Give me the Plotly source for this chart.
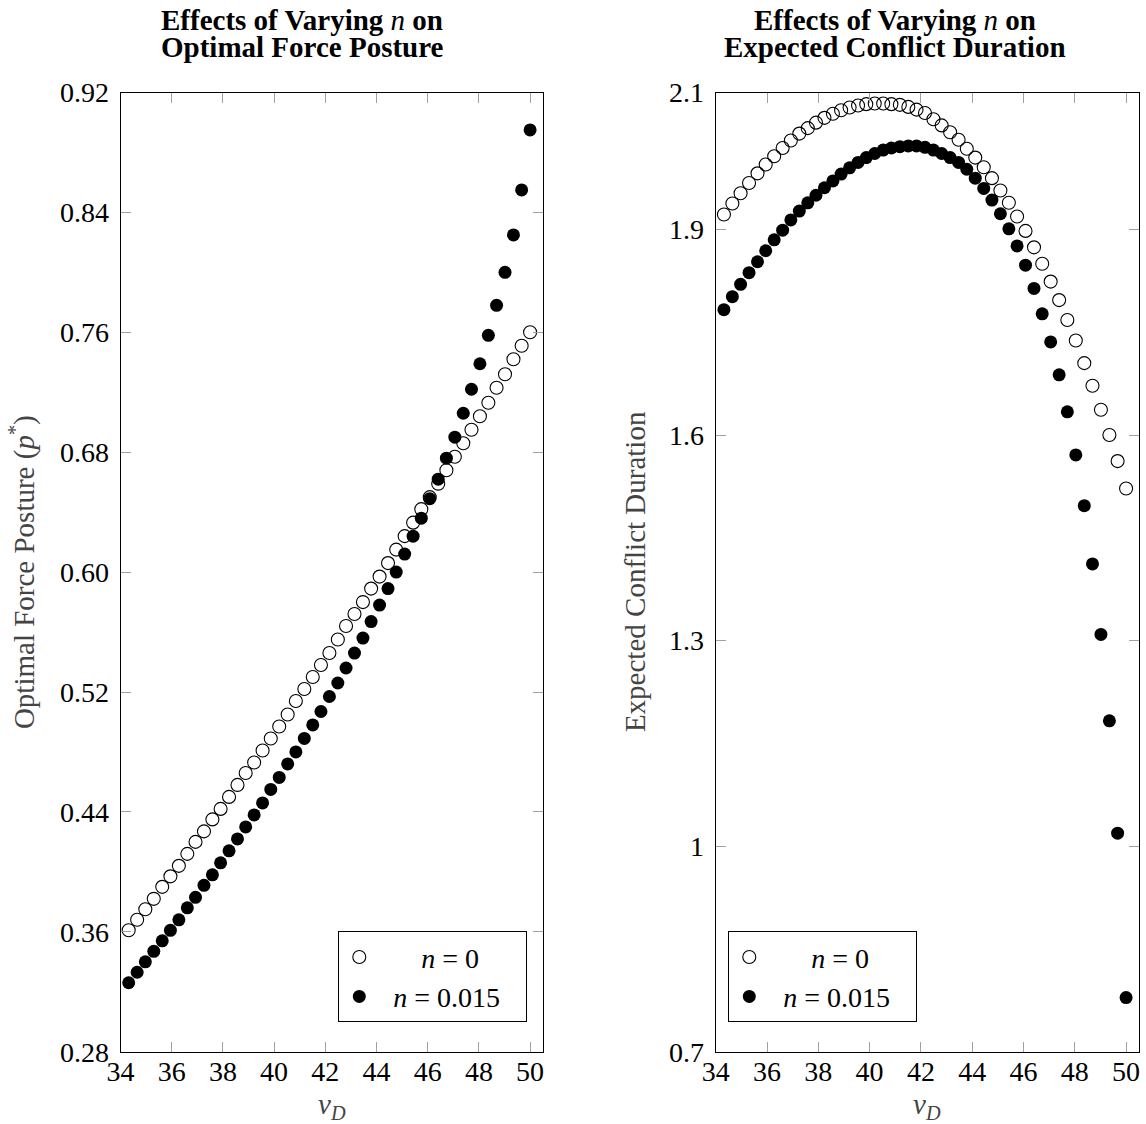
import plotly.graph_objects as go

# ---------------- data ----------------
v_D = [34.32, 34.65, 34.97, 35.30, 35.63, 35.95, 36.28, 36.61, 36.93, 37.26,
       37.59, 37.91, 38.24, 38.57, 38.89, 39.22, 39.55, 39.87, 40.20, 40.53,
       40.85, 41.18, 41.51, 41.83, 42.16, 42.49, 42.81, 43.14, 43.47, 43.79,
       44.12, 44.45, 44.77, 45.10, 45.43, 45.75, 46.08, 46.41, 46.73, 47.06,
       47.39, 47.71, 48.04, 48.37, 48.69, 49.02, 49.35, 49.67, 50.00]

posture_n0 = [0.361, 0.368, 0.375, 0.382, 0.390, 0.397, 0.404, 0.412, 0.420, 0.427,
              0.435, 0.442, 0.450, 0.458, 0.466, 0.473, 0.481, 0.489, 0.497, 0.505,
              0.514, 0.522, 0.530, 0.538, 0.546, 0.555, 0.564, 0.572, 0.580, 0.589,
              0.597, 0.606, 0.615, 0.624, 0.633, 0.642, 0.650, 0.659, 0.668, 0.677,
              0.686, 0.695, 0.704, 0.713, 0.723, 0.732, 0.742, 0.751, 0.760]

posture_n015 = [0.326, 0.333, 0.340, 0.347, 0.354, 0.361, 0.368, 0.376, 0.383, 0.391,
                0.398, 0.406, 0.414, 0.422, 0.430, 0.438, 0.446, 0.455, 0.463, 0.472,
                0.480, 0.489, 0.498, 0.507, 0.517, 0.526, 0.536, 0.546, 0.556, 0.567,
                0.578, 0.589, 0.600, 0.612, 0.624, 0.636, 0.649, 0.662, 0.676, 0.690,
                0.706, 0.722, 0.739, 0.758, 0.778, 0.800, 0.825, 0.855, 0.895]

duration_n0 = [1.922, 1.938, 1.953, 1.968, 1.982, 1.995, 2.007, 2.019, 2.030, 2.040,
               2.048, 2.056, 2.063, 2.069, 2.074, 2.078, 2.081, 2.083, 2.084, 2.084,
               2.083, 2.082, 2.079, 2.075, 2.070, 2.061, 2.052, 2.042, 2.031, 2.018,
               2.005, 1.991, 1.975, 1.957, 1.939, 1.919, 1.898, 1.874, 1.850, 1.824,
               1.797, 1.768, 1.738, 1.705, 1.672, 1.637, 1.600, 1.562, 1.522]

duration_n015 = [1.783, 1.802, 1.820, 1.837, 1.853, 1.869, 1.885, 1.899, 1.914, 1.927,
                 1.939, 1.950, 1.961, 1.971, 1.981, 1.990, 1.998, 2.005, 2.011, 2.016,
                 2.019, 2.021, 2.022, 2.022, 2.020, 2.016, 2.011, 2.005, 1.998, 1.988,
                 1.975, 1.960, 1.943, 1.923, 1.901, 1.876, 1.848, 1.814, 1.777, 1.736,
                 1.688, 1.634, 1.571, 1.497, 1.412, 1.309, 1.183, 1.019, 0.779]

x_ticks = [34, 36, 38, 40, 42, 44, 46, 48, 50]
posture_ticks = [0.28, 0.36, 0.44, 0.52, 0.60, 0.68, 0.76, 0.84, 0.92]
posture_ticktext = ["0.28", "0.36", "0.44", "0.52", "0.60", "0.68", "0.76", "0.84", "0.92"]
duration_ticks = [0.7, 1.0, 1.3, 1.6, 1.9, 2.1]
duration_ticktext = ["0.7", "1", "1.3", "1.6", "1.9", "2.1"]

NB = "\u00a0"
label_n0 = NB * 6 + "<i>n</i> = 0"
label_n015 = NB * 2 + "<i>n</i> = 0.015" + NB * 3

# ---------------- styling / layout helpers ----------------
FONT = "Liberation Serif"
FW, FH = 1146, 1124


def fx(px):                   # page pixel -> paper fraction (x)
    return px / FW


def fy(px):                   # page pixel -> paper fraction (y)
    return 1 - px / FH


TOP, BOTTOM = 92.5, 1051.7
ydom = [fy(BOTTOM), fy(TOP)]

open_marker = dict(symbol="circle", size=13, color="rgba(0,0,0,0)",
                   line=dict(color="black", width=1.1))
filled_marker = dict(symbol="circle", size=13, color="black",
                     line=dict(color="black", width=0))

fig = go.Figure()
fig.add_trace(go.Scatter(x=v_D, y=posture_n0, mode="markers", marker=open_marker,
                         name=label_n0, xaxis="x", yaxis="y", legend="legend"))
fig.add_trace(go.Scatter(x=v_D, y=posture_n015, mode="markers", marker=filled_marker,
                         name=label_n015, xaxis="x", yaxis="y", legend="legend"))
fig.add_trace(go.Scatter(x=v_D, y=duration_n0, mode="markers", marker=open_marker,
                         name=label_n0, xaxis="x2", yaxis="y2", legend="legend2"))
fig.add_trace(go.Scatter(x=v_D, y=duration_n015, mode="markers", marker=filled_marker,
                         name=label_n015, xaxis="x2", yaxis="y2", legend="legend2"))

axis_common = dict(showline=True, linecolor="black", linewidth=1, mirror="ticks",
                   ticks="inside", ticklen=10, tickwidth=1, tickcolor="#a0a0a0",
                   showgrid=False, zeroline=False, automargin=False,
                   tickfont=dict(family=FONT, size=28, color="black"))

legend_common = dict(yanchor="bottom", y=fy(1022.3), xanchor="left",
                     bgcolor="white", bordercolor="black", borderwidth=1,
                     font=dict(family=FONT, size=28, color="black"), tracegroupgap=0)

fig.update_layout(
    width=FW, height=FH,
    margin=dict(l=0, r=0, t=0, b=0, pad=0),
    paper_bgcolor="white", plot_bgcolor="white",
    font=dict(family=FONT, size=28, color="black"),
    xaxis=dict(domain=[fx(120.5), fx(542.9)], range=[34, 50.5], tickvals=x_ticks,
               anchor="y", ticklabelstandoff=-5, **axis_common),
    yaxis=dict(domain=ydom, range=[0.28, 0.92], tickvals=posture_ticks,
               ticktext=posture_ticktext, anchor="x", ticklabelstandoff=5, **axis_common),
    xaxis2=dict(domain=[fx(715.7), fx(1138.9)], range=[34, 50.5], tickvals=x_ticks,
                anchor="y2", ticklabelstandoff=-5, **axis_common),
    yaxis2=dict(domain=ydom, range=[0.7, 2.1], tickvals=duration_ticks,
                ticktext=duration_ticktext, anchor="x2", ticklabelstandoff=5, **axis_common),
    legend=dict(x=fx(338.3), **legend_common),
    legend2=dict(x=fx(728.3), **legend_common),
)

title_font = dict(family=FONT, size=29, color="black")
axis_title_font = dict(family=FONT, size=29, color="#444444")
titles = [
    ("<b>Effects of Varying </b><i>n</i><b> on</b>", 302, 20),
    ("<b>Optimal Force Posture</b>", 302, 47),
    ("<b>Effects of Varying </b><i>n</i><b> on</b>", 895, 20),
    ("<b>Expected Conflict Duration</b>", 895, 47),
]
for text, xpx, ypx in titles:
    fig.add_annotation(text=text, x=fx(xpx), y=fy(ypx), xref="paper", yref="paper",
                       xanchor="center", yanchor="middle", showarrow=False, font=title_font)

mid_y = fy((TOP + BOTTOM) / 2)
fig.add_annotation(text="Optimal Force Posture (<i>p</i><sup>*</sup>)", textangle=-90,
                   x=fx(22), y=mid_y, xref="paper", yref="paper", showarrow=False,
                   xanchor="center", yanchor="middle", font=axis_title_font)
fig.add_annotation(text="Expected Conflict Duration", textangle=-90,
                   x=fx(635), y=mid_y, xref="paper", yref="paper", showarrow=False,
                   xanchor="center", yanchor="middle", font=axis_title_font)
for xpx in (331.7, 927.3):
    fig.add_annotation(text="<i>v</i><sub><i>D</i></sub>", x=fx(xpx), y=fy(1106),
                       xref="paper", yref="paper", showarrow=False,
                       xanchor="center", yanchor="middle", font=axis_title_font)

fig.write_html("out.html",
               config={"displayModeBar": False},
               post_script="document.body.style.margin='0';document.body.style.padding='0';")
